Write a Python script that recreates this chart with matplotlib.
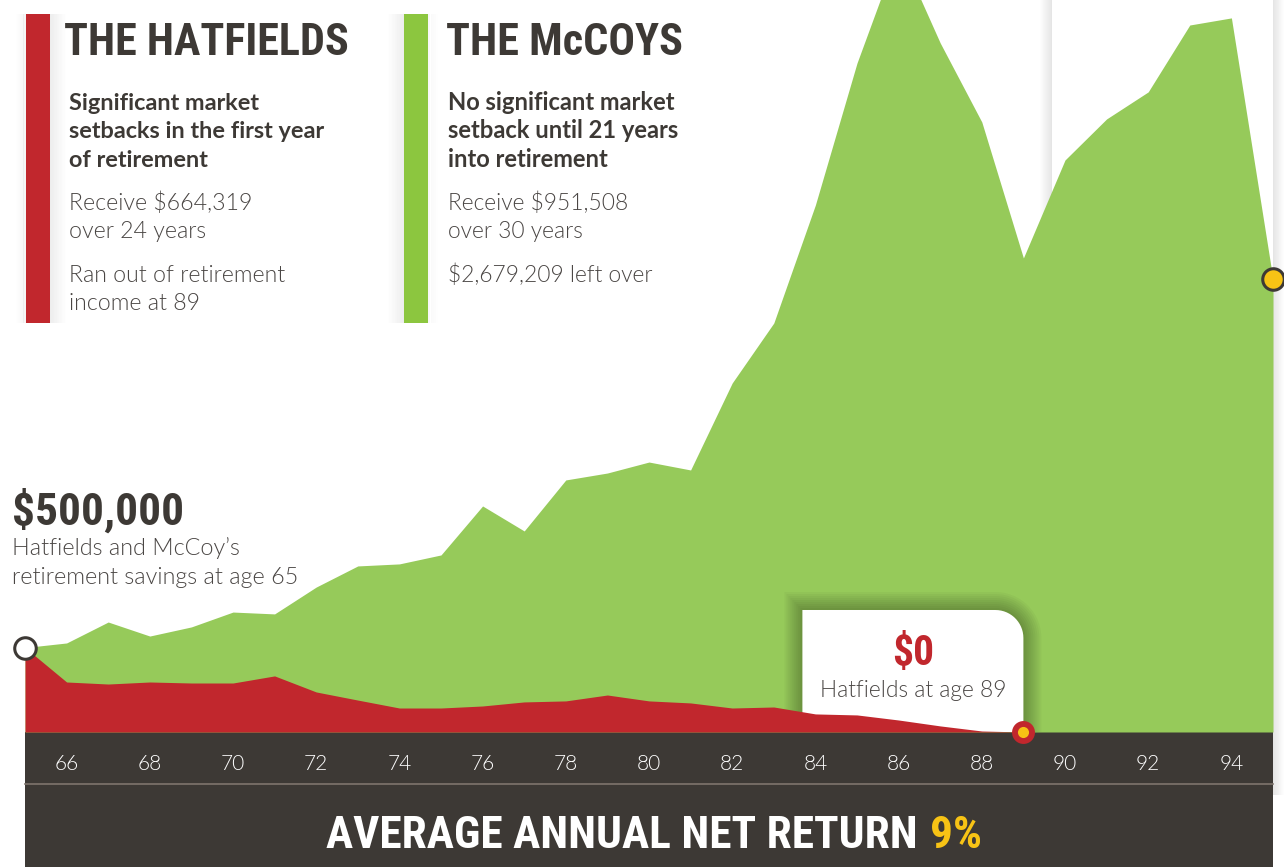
import numpy as np
import matplotlib
matplotlib.use("Agg")
import matplotlib.pyplot as plt
from matplotlib import font_manager
from matplotlib.lines import Line2D
from matplotlib.patches import PathPatch, Rectangle
from matplotlib.path import Path
from matplotlib.transforms import IdentityTransform


W, H, DPI = 1284, 867, 100

# portfolio values (dollars), one point per age
ages = list(range(65, 96))
mccoys = [
    500000, 527000, 651000, 568000, 622000, 710000, 699000, 858000,
    983000, 995000, 1048000, 1338000, 1190000, 1492000, 1533000, 1598000,
    1551000, 2066000, 2421000, 3120000, 3960000, 4630000, 4079000, 3611000,
    2806000, 3386000, 3629000, 3789000, 4185000, 4227000, 2679209,
]
hatfield_ages = list(range(65, 90))
hatfields = [
    500000, 296000, 284000, 296000, 290000, 290000, 332000, 237000,
    189000, 142000, 142000, 154000, 178000, 184000, 219000, 184000,
    172000, 142000, 148000, 107000, 101000, 71000, 36000, 6000, 0,
]
tick_ages = list(range(66, 95, 2))
start_savings = 500000
hatfields_broke_age = 89
y_top = 4333000

hatfields_title = "THE HATFIELDS"
hatfields_bold = ["Significant market", "setbacks in the first year", "of retirement"]
hatfields_body = ["Receive $664,319", "over 24 years", "Ran out of retirement", "income at 89"]
mccoys_title = "THE McCOYS"
mccoys_bold = ["No significant market", "setback until 21 years", "into retirement"]
mccoys_body = ["Receive $951,508", "over 30 years", "$2,679,209 left over"]
start_label = "$500,000"
start_caption = ["Hatfields and McCoy\u2019s", "retirement savings at age 65"]
zero_label = "$0"
zero_caption = "Hatfields at age 89"
footer_text = "AVERAGE ANNUAL NET RETURN"
footer_rate = "9%"

INK = "#3d3935"
BODY = "#4a4644"
RED = "#c1272d"
GREEN = "#96ca5a"
GREEN_BAR = "#8cc63f"
YELLOW = "#f7c315"

# fonts: a condensed face for the headlines, a light face for the copy
names = {f.name for f in font_manager.fontManager.ttflist}


def weight_of(entry):
    w = entry.weight
    if isinstance(w, str):
        w = font_manager.weight_dict.get(w, 400)
    return int(w)


COND = next((n for n in ["Roboto Condensed", "Liberation Sans Narrow",
                         "DejaVu Sans Condensed", "Open Sans Condensed"] if n in names),
            "DejaVu Sans")
light_fams = [f.name for f in font_manager.fontManager.ttflist if weight_of(f) == 300]
SANS = next((n for n in ["Lato", "Roboto", "Open Sans", "Inter"] if n in light_fams),
            next((n for n in ["Lato", "Roboto", "Open Sans"] if n in names), "DejaVu Sans"))
LIGHT = 300 if SANS in light_fams else "normal"

fig = plt.figure(figsize=(W / DPI, H / DPI), dpi=DPI)
fig.patch.set_facecolor("white")
renderer = fig.canvas.get_renderer()


def fx(px):
    return px / W


def fy(py):
    return 1 - py / H


def px_rect(x0, y0, x1, y1, **kw):
    r = Rectangle((fx(x0), fy(y1)), (x1 - x0) / W, (y1 - y0) / H,
                  transform=fig.transFigure, lw=0, **kw)
    fig.add_artist(r)
    return r


def soft_edge(x_dark, x_light, y0, y1, alpha, n=12, zorder=-2):
    xs = np.linspace(x_dark, x_light, n + 1)
    for i in range(n):
        px_rect(min(xs[i], xs[i + 1]), y0, max(xs[i], xs[i + 1]), y1,
                color="black", alpha=alpha * (1 - i / n), zorder=zorder)


def fit_width(texts, width_px, cap_px=None):
    # scale a group of texts so the widest one spans width_px
    size = texts[0].get_fontsize()
    if cap_px is not None:
        size = cap_px / 0.72 * 72 / DPI
    for t in texts:
        t.set_fontsize(size)
    widest = max(t.get_window_extent(renderer).width for t in texts)
    if cap_px is None or widest > width_px:
        for t in texts:
            t.set_fontsize(size * width_px / widest)


def lines_at(lines, x, baselines, **kw):
    return [fig.text(fx(x), fy(b), s, ha="left", va="baseline", **kw)
            for s, b in zip(lines, baselines)]


# ---- background pieces: shadows, bottom band
soft_edge(1052, 1040, 0, 732, 0.10)
soft_edge(1273, 1284, 0, 795, 0.10)
soft_edge(50, 66, 14, 323, 0.07)
soft_edge(26, 16, 14, 323, 0.04)
soft_edge(404, 388, 14, 323, 0.07)
soft_edge(428, 438, 14, 323, 0.03)
px_rect(25, 732, 1273, 867, color=INK, zorder=-1)
fig.add_artist(Line2D([fx(25), fx(1273)], [fy(783.5)] * 2, color="#7f746d", lw=1.2,
                      transform=fig.transFigure, zorder=-0.5))
px_rect(26, 14, 50, 323, color=RED, zorder=1)
px_rect(404, 14, 428, 323, color=GREEN_BAR, zorder=1)

# ---- chart
ax = fig.add_axes([fx(25), 1 - 732 / H, 1248 / W, 732 / H])
ax.set_facecolor("none")
ax.set_xlim(65, 95)
ax.set_ylim(0, y_top)
for s in ax.spines.values():
    s.set_visible(False)
ax.set_yticks([])
ax.set_xticks(tick_ages, labels=[str(a) for a in tick_ages])
ax.tick_params(axis="x", length=0, pad=16, labelcolor="white", labelsize=15)
for lab in ax.get_xticklabels():
    lab.set_fontfamily(SANS)
    lab.set_fontweight(LIGHT)

ax.fill_between(ages, mccoys, color=GREEN, lw=0, zorder=1)
ax.fill_between(hatfield_ages, hatfields, color=RED, lw=0, zorder=4)

# callout box with a rounded top-right corner, tied to the point where the Hatfields hit $0
dot_x, base_y = ax.transData.transform((hatfields_broke_age, 0))
box_w, box_h, rad = 221, 122, 28


def callout_path(grow):
    left, right = dot_x - box_w - grow, dot_x + grow
    top, r = base_y + box_h + grow, rad + grow
    th = np.linspace(0, np.pi / 2, 16)
    arc = [(right - r + r * np.cos(t), top - r + r * np.sin(t)) for t in th]
    verts = [(left, base_y - 40), (right, base_y - 40)] + arc + [(left, top), (left, base_y - 40)]
    codes = [Path.MOVETO] + [Path.LINETO] * (len(verts) - 2) + [Path.CLOSEPOLY]
    return Path(verts, codes)


for g in range(18, 0, -2):
    ax.add_patch(PathPatch(callout_path(g), transform=IdentityTransform(),
                           facecolor="black", edgecolor="none", alpha=0.03, zorder=2))
ax.add_patch(PathPatch(callout_path(0), transform=IdentityTransform(),
                       facecolor="white", edgecolor="none", zorder=3))

ax.plot(ages[0], start_savings, "o", ms=15.5, mfc="white", mec=INK, mew=2.2,
        zorder=6, clip_on=False)
ax.plot(ages[-1], mccoys[-1], "o", ms=15.5, mfc=YELLOW, mec=INK, mew=2.2,
        zorder=6, clip_on=False)
ax.plot(hatfields_broke_age, 0, "o", ms=16.5, mfc=RED, mec="none", zorder=6, clip_on=False)
ax.plot(hatfields_broke_age, 0, "o", ms=8, mfc=YELLOW, mec="none", zorder=7, clip_on=False)

# ---- headline panels
t = lines_at([hatfields_title], 64, [55], family=COND, weight="bold", color=INK)
fit_width(t, 285, cap_px=41)
t = lines_at(hatfields_bold, 69, [110, 138.5, 167], family=SANS, weight="bold", color=INK, fontsize=15)
fit_width(t, 256)
t = lines_at(hatfields_body, 69, [210, 238.5, 282, 310], family=SANS, weight=LIGHT, color=BODY, fontsize=16)
fit_width(t, 216)

t = lines_at([mccoys_title], 446, [55], family=COND, weight="bold", color=INK)
fit_width(t, 237, cap_px=41)
t = lines_at(mccoys_bold, 448, [110, 138.5, 167], family=SANS, weight="bold", color=INK, fontsize=15)
fit_width(t, 231)
t = lines_at(mccoys_body, 448, [210, 238.5, 282], family=SANS, weight=LIGHT, color=BODY, fontsize=16)
fit_width(t, 205)

# ---- start label
t = lines_at([start_label], 12, [525], family=COND, weight="bold", color=INK)
fit_width(t, 172, cap_px=40)
t = lines_at(start_caption, 12, [555, 583.5], family=SANS, weight=LIGHT, color=BODY, fontsize=16)
fit_width(t, 286)

# ---- callout text
cx = fx(dot_x - box_w / 2)
t0 = fig.text(cx, fy(665), zero_label, ha="center", va="baseline", family=COND,
              weight="bold", color=RED)
fit_width([t0], 42, cap_px=35)
t1 = fig.text(cx, fy(697), zero_caption, ha="center", va="baseline", family=SANS,
              weight=LIGHT, color=BODY, fontsize=16)
fit_width([t1], 187)

# ---- footer, centred as one line: white label plus yellow rate
tf = fig.text(0, fy(848), footer_text, ha="left", va="baseline", family=COND,
              weight="bold", color="white")
fit_width([tf], 590, cap_px=40)
tr = fig.text(0, fy(848), footer_rate, ha="left", va="baseline", family=COND,
              weight="bold", color=YELLOW, fontsize=tf.get_fontsize())
gap = 12
w_label = tf.get_window_extent(renderer).width
w_rate = tr.get_window_extent(renderer).width
left = 654 - (w_label + gap + w_rate) / 2
tf.set_x(fx(left))
tr.set_x(fx(left + w_label + gap))

fig.savefig("out.png", dpi=DPI)
